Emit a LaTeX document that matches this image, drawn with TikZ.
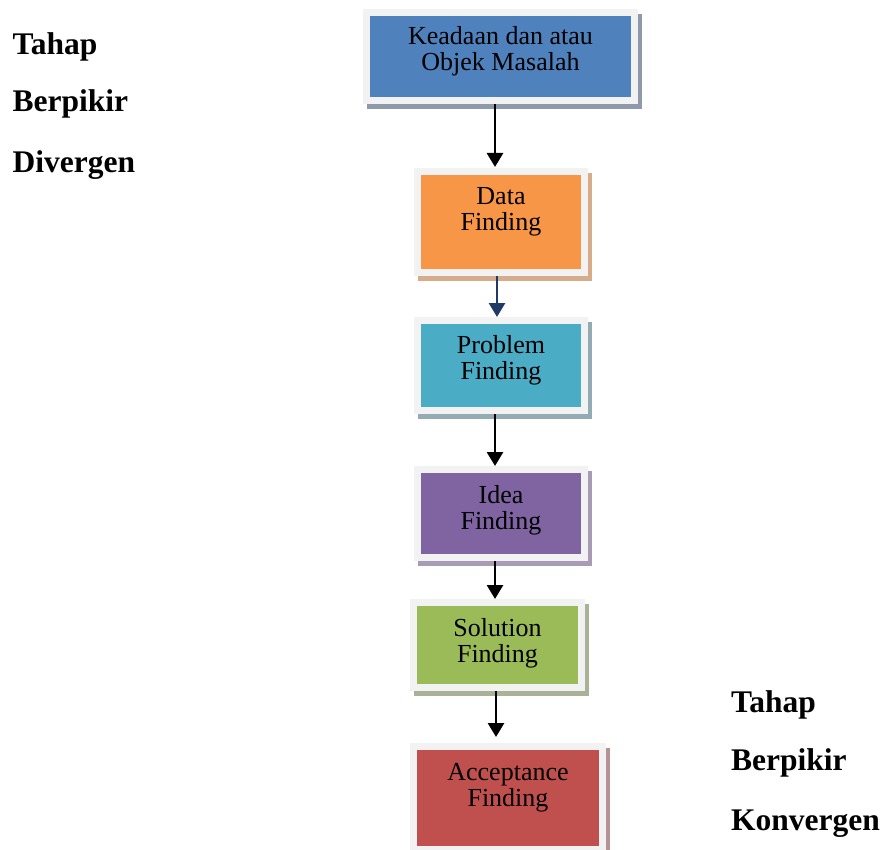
\documentclass[tikz,border=0pt]{standalone}
\usepackage{fontspec}
\setmainfont{Liberation Serif}
\usetikzlibrary{arrows.meta}
\pgfdeclarelayer{bg}
\pgfsetlayers{bg,main}
\definecolor{frameg}{HTML}{F2F2F2}
\definecolor{cblue}{HTML}{4F81BD}
\definecolor{corange}{HTML}{F79646}
\definecolor{caqua}{HTML}{4BACC6}
\definecolor{cpurple}{HTML}{8064A2}
\definecolor{cgreen}{HTML}{9BBB59}
\definecolor{cred}{HTML}{C0504D}
\definecolor{sblue}{HTML}{8E9AAA}
\definecolor{sorange}{HTML}{D6AC8A}
\definecolor{saqua}{HTML}{93ABB5}
\definecolor{spurple}{HTML}{A89BB5}
\definecolor{sgreen}{HTML}{A9B296}
\definecolor{sred}{HTML}{B59393}
\definecolor{darrow}{HTML}{1F3A64}
\tikzset{
  flowbox/.style={draw=frameg, line width=7pt, inner sep=0pt, rectangle},
  boxtext/.style={anchor=base, inner sep=0pt, font=\fontsize{26}{26}\selectfont},
  sidelabel/.style={anchor=base west, inner sep=0pt, font=\fontsize{31.5}{31.5}\selectfont\bfseries},
  arr/.style={line width=2.8pt, -{Triangle[width=16pt,length=14pt]}},
}
\newcommand{\twolines}[2]{\begin{tabular}[t]{@{}c@{}}#1\\#2\end{tabular}}
\newcommand{\shadowof}[2]{\begin{pgfonlayer}{bg}\fill[#2] ([shift={(4pt,-5pt)}]#1.south west) rectangle ([shift={(4pt,-5pt)}]#1.north east);\end{pgfonlayer}}
\begin{document}
\begin{tikzpicture}[x=1pt,y=-1pt]
\useasboundingbox (0,0) rectangle (883,850);
% boxes
\node[flowbox, fill=cblue, minimum width=268pt, minimum height=88pt] (b1) at (500.5,56.5) {};
\node[flowbox, fill=corange, minimum width=167pt, minimum height=101pt] (b2) at (501,222) {};
\node[flowbox, fill=caqua, minimum width=167pt, minimum height=90pt] (b3) at (501,365.5) {};
\node[flowbox, fill=cpurple, minimum width=167pt, minimum height=88pt] (b4) at (501,513.5) {};
\node[flowbox, fill=cgreen, minimum width=168pt, minimum height=85pt] (b5) at (497.5,645) {};
\node[flowbox, fill=cred, minimum width=189pt, minimum height=103pt] (b6) at (508,798) {};
\shadowof{b1}{sblue}
\shadowof{b2}{sorange}
\shadowof{b3}{saqua}
\shadowof{b4}{spurple}
\shadowof{b5}{sgreen}
\shadowof{b6}{sred}
% texts
\node[boxtext] (t1) at ([yshift=-35.5pt]b1.north) {\twolines{Keadaan dan atau}{Objek Masalah}};
\node[boxtext] (t2) at ([yshift=-37pt]b2.north) {\twolines{Data}{Finding}};
\node[boxtext] (t3) at ([yshift=-36pt]b3.north) {\twolines{Problem}{Finding}};
\node[boxtext] (t4) at ([yshift=-37pt]b4.north) {\twolines{Idea}{Finding}};
\node[boxtext] (t5) at ([yshift=-37pt]b5.north) {\twolines{Solution}{Finding}};
\node[boxtext] (t6) at ([yshift=-37pt]b6.north) {\twolines{Acceptance}{Finding}};
% arrows
\draw[arr] ([xshift=-5.5pt]b1.south) -- ([xshift=-6pt,yshift=1pt]b2.north);
\draw[arr, darrow] ([xshift=-4pt]b2.south) -- ([xshift=-4pt]b3.north);
\draw[arr] ([xshift=-6pt]b3.south) -- ([xshift=-6pt]b4.north);
\draw[arr] ([xshift=-6pt]b4.south) -- ([xshift=-2.5pt]b5.north);
\draw[arr] ([xshift=-1.5pt]b5.south) -- ([xshift=-12pt,yshift=6pt]b6.north);
% side labels
\node[sidelabel] (l1) at (12.5,55) {Tahap};
\node[sidelabel] (l2) at (12.5,112) {Berpikir};
\node[sidelabel] (l3) at (12.5,173) {Divergen};
\node[sidelabel] (r1) at (731,712) {Tahap};
\node[sidelabel] (r2) at (731,770) {Berpikir};
\node[sidelabel] (r3) at (731,830) {Konvergen};
\end{tikzpicture}
\end{document}
